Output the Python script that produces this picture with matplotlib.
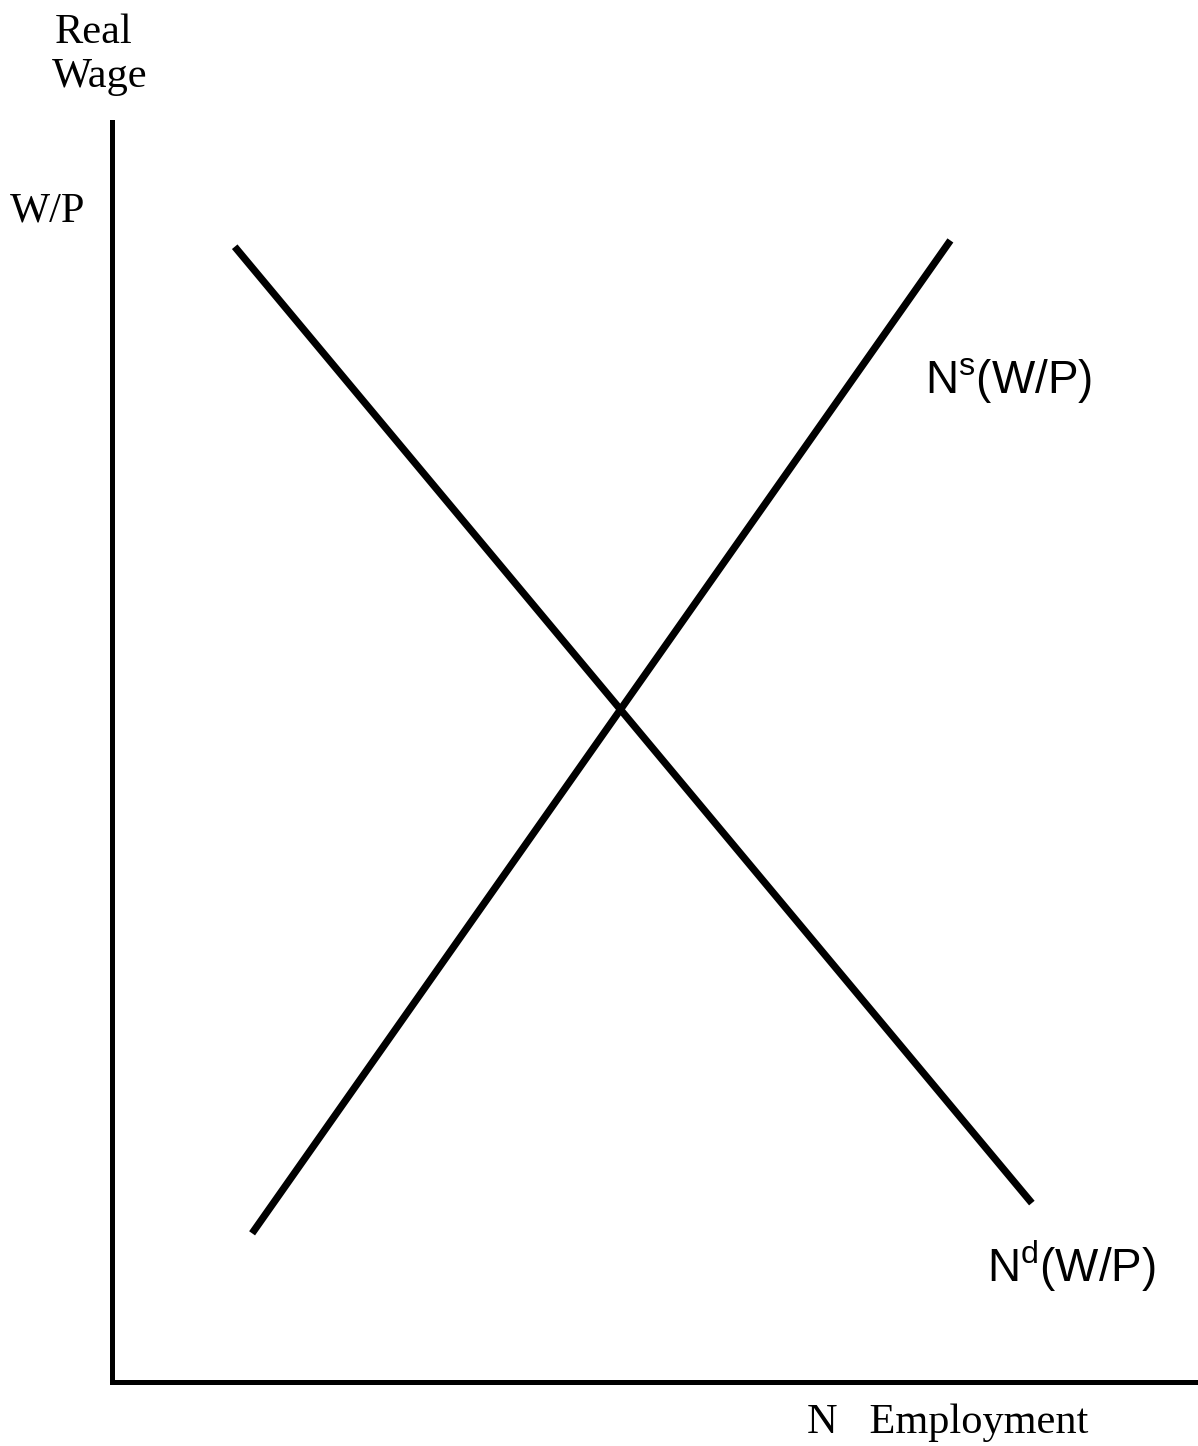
import matplotlib
matplotlib.use("Agg")
import matplotlib.pyplot as plt

# labour market: demand and supply of labour (axis units 0..10)
nd_x = [1.13, 8.47]
nd_y = [9.01, 1.42]
ns_x = [1.29, 7.72]
ns_y = [1.18, 9.06]

nd_label = r"N$^{\mathregular{d}}$(W/P)"
ns_label = r"N$^{\mathregular{s}}$(W/P)"
y_title = ["Real", "Wage"]
y_var = "W/P"
x_title = "N   Employment"

W, H = 1198, 1446
fig = plt.figure(figsize=(W / 100, H / 100), dpi=100)
ax = fig.add_axes([112 / W, (H - 1382) / H, (W - 112) / W, 1260 / H])
ax.set_xlim(0, 10)
ax.set_ylim(0, 10)

ax.plot(nd_x, nd_y, color="black", lw=5.2, solid_capstyle="butt")
ax.plot(ns_x, ns_y, color="black", lw=5.2, solid_capstyle="butt")

for s in ["top", "right"]:
    ax.spines[s].set_visible(False)
for s in ["left", "bottom"]:
    ax.spines[s].set_linewidth(3.6)
    ax.spines[s].set_color("black")
ax.set_xticks([])
ax.set_yticks([])

serif = dict(family="Liberation Serif", fontsize=30.5, va="baseline", clip_on=False)
sans = dict(family="Liberation Sans", fontsize=33, va="baseline", clip_on=False)

ax.text(-0.525, 10.63, y_title[0], **serif)
ax.text(-0.55, 10.28, y_title[1], **serif)
ax.text(-0.94, 9.21, y_var, **serif)
ax.text(6.40, -0.405, x_title, **serif)
ax.text(7.49, 7.85, ns_label, **sans)
ax.text(8.06, 0.79, nd_label, **sans)

fig.savefig("out.png", dpi=100)
